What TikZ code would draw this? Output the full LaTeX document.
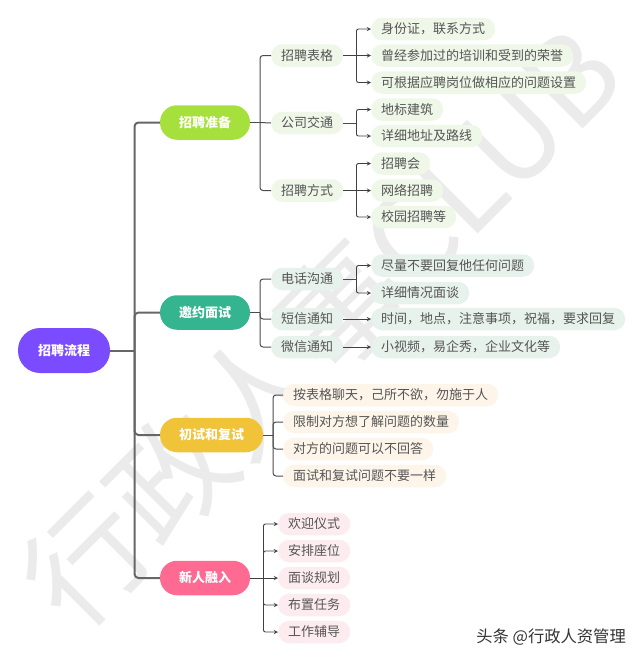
\documentclass[tikz,border=0pt]{standalone}
\usepackage{fontspec}
\setmainfont{Noto Sans CJK SC}
\definecolor{rootfill}{HTML}{7A4BFF}
\definecolor{prepfill}{HTML}{A6E03D}
\definecolor{callfill}{HTML}{34B58F}
\definecolor{testfill}{HTML}{F0C339}
\definecolor{newfill}{HTML}{FF6A92}
\definecolor{preplight}{HTML}{EFF7E8}
\definecolor{calllight}{HTML}{E8F2EC}
\definecolor{testlight}{HTML}{FDF5E9}
\definecolor{newlight}{HTML}{FDECEF}
\definecolor{wordgray}{HTML}{555555}
\definecolor{markgray}{HTML}{EBEBEB}

\begin{document}
\begin{tikzpicture}[x=1pt, y=-1pt]
    % Define styles
    \tikzstyle{rootbox} = [rectangle, rounded corners=22pt, minimum width=92pt, minimum height=45pt, inner sep=0pt, text=white, font=\fontsize{13}{15}\selectfont\bfseries, fill=rootfill]
    \tikzstyle{stage} = [rectangle, rounded corners=17pt, minimum width=90pt, minimum height=34.5pt, inner sep=0pt, text=white, font=\fontsize{13}{15}\selectfont\bfseries]
    \tikzstyle{item} = [rectangle, rounded corners=11pt, anchor=west, minimum height=22.5pt, inner xsep=10pt, inner ysep=0pt, text=wordgray, font=\fontsize{13}{15}\selectfont]
    \tikzstyle{trunk} = [line width=2pt, draw=black!60, rounded corners=4pt]
    \tikzstyle{twig} = [line width=1pt, draw=black!70, rounded corners=3pt]
    \tikzstyle{arrow} = [line width=0.9pt, draw=black!75, rounded corners=2pt, ->, >=stealth]

    \useasboundingbox (0,0) rectangle (640,659);

    % Watermark
    \node (mark) [rotate=45, anchor=base, text=markgray, inner sep=0pt, font=\fontsize{120}{125}\selectfont] at (353,359) {行政人事CLUB};

    % Nodes
    \node (root) [rootbox] at (64,350.5) {招聘流程};
    \node (prep) [stage, fill=prepfill] at (205,122.5) {招聘准备};
    \node (call) [stage, fill=callfill] at (205,312.5) {邀约面试};
    \node (test) [stage, fill=testfill, minimum width=103pt] at (211.5,435) {初试和复试};
    \node (join) [stage, fill=newfill] at (205,578) {新人融入};

    \node (form) [item, fill=preplight] at (271,55.5) {招聘表格};
    \node (traffic) [item, fill=preplight] at (271,123) {公司交通};
    \node (channel) [item, fill=preplight] at (271,190.5) {招聘方式};
    \node (phone) [item, fill=calllight] at (271,279) {电话沟通};
    \node (sms) [item, fill=calllight] at (271,319) {短信通知};
    \node (wechat) [item, fill=calllight] at (271,347) {微信通知};

    \node (idcard) [item, fill=preplight] at (371,29) {身份证，联系方式};
    \node (honor) [item, fill=preplight] at (371,55.5) {曾经参加过的培训和受到的荣誉};
    \node (post) [item, fill=preplight] at (371,82.5) {可根据应聘岗位做相应的问题设置};
    \node (landmark) [item, fill=preplight] at (371,109.5) {地标建筑};
    \node (route) [item, fill=preplight] at (371,136) {详细地址及路线};
    \node (fair) [item, fill=preplight] at (371,163.5) {招聘会};
    \node (web) [item, fill=preplight] at (371,190.5) {网络招聘};
    \node (campus) [item, fill=preplight] at (371,217) {校园招聘等};

    \node (avoid) [item, fill=calllight] at (371,265.5) {尽量不要回复他任何问题};
    \node (detail) [item, fill=calllight] at (371,293) {详细情况面谈};
    \node (notice) [item, fill=calllight] at (371,319) {时间，地点，注意事项，祝福，要求回复};
    \node (video) [item, fill=calllight] at (371,347) {小视频，易企秀，企业文化等};

    \node (chat) [item, fill=testlight] at (283,395) {按表格聊天，己所不欲，勿施于人};
    \node (limit) [item, fill=testlight] at (283,422) {限制对方想了解问题的数量};
    \node (skip) [item, fill=testlight] at (283,449) {对方的问题可以不回答};
    \node (differ) [item, fill=testlight] at (283,476) {面试和复试问题不要一样};

    \node (welcome) [item, fill=newlight] at (278,524) {欢迎仪式};
    \node (seat) [item, fill=newlight] at (278,551) {安排座位};
    \node (plan) [item, fill=newlight] at (278,578) {面谈规划};
    \node (task) [item, fill=newlight] at (278,605) {布置任务};
    \node (coach) [item, fill=newlight] at (278,632) {工作辅导};

    \node (credit) [anchor=east, inner sep=0pt, text=black!80, font=\fontsize{16.3}{18}\selectfont] at (626,637) {头条 @行政人资管理};

    % Branch points
    \coordinate (roothub) at (134.5,350.5);
    \coordinate (prephub) at (260,122.5);
    \coordinate (callhub) at (260,312.5);
    \coordinate (testhub) at (273,435);
    \coordinate (formhub) at (356.5,55.5);
    \coordinate (traffichub) at (356.5,123);
    \coordinate (channelhub) at (356.5,190.5);
    \coordinate (phonehub) at (356.5,279);
    \coordinate (joinhub) at (263.5,578);

    % Arrows
    \draw [trunk] (root.east) -- (roothub);
    \draw [trunk] (roothub) |- (prep.west);
    \draw [trunk] (roothub) |- (call.west);
    \draw [trunk] (roothub) |- (test.west);
    \draw [trunk] (roothub) |- (join.west);

    \draw [twig] (prep.east) -- (prephub);
    \draw [twig] (prephub) |- (form.west);
    \draw [twig] (prephub) -- (traffic.west);
    \draw [twig] (prephub) |- (channel.west);
    \draw [twig] (call.east) -- (callhub);
    \draw [twig] (callhub) |- (phone.west);
    \draw [twig] (callhub) |- (sms.west);
    \draw [twig] (callhub) |- (wechat.west);
    \draw [twig] (test.east) -- (testhub);
    \draw [twig] (testhub) |- (chat.west);
    \draw [twig] (testhub) |- (limit.west);
    \draw [twig] (testhub) |- (skip.west);
    \draw [twig] (testhub) |- (differ.west);

    \draw [arrow] (form.east) -- (honor.west);
    \draw [arrow] (formhub) |- (idcard.west);
    \draw [arrow] (formhub) |- (post.west);
    \draw [twig] (traffic.east) -- (traffichub);
    \draw [arrow] (traffichub) |- (landmark.west);
    \draw [arrow] (traffichub) |- (route.west);
    \draw [arrow] (channel.east) -- (web.west);
    \draw [arrow] (channelhub) |- (fair.west);
    \draw [arrow] (channelhub) |- (campus.west);
    \draw [twig] (phone.east) -- (phonehub);
    \draw [arrow] (phonehub) |- (avoid.west);
    \draw [arrow] (phonehub) |- (detail.west);
    \draw [arrow] (sms.east) -- (notice.west);
    \draw [arrow] (wechat.east) -- (video.west);

    \draw [arrow] (join.east) -- (plan.west);
    \draw [arrow] (joinhub) |- (welcome.west);
    \draw [arrow] (joinhub) |- (seat.west);
    \draw [arrow] (joinhub) |- (task.west);
    \draw [arrow] (joinhub) |- (coach.west);
\end{tikzpicture}
\end{document}
